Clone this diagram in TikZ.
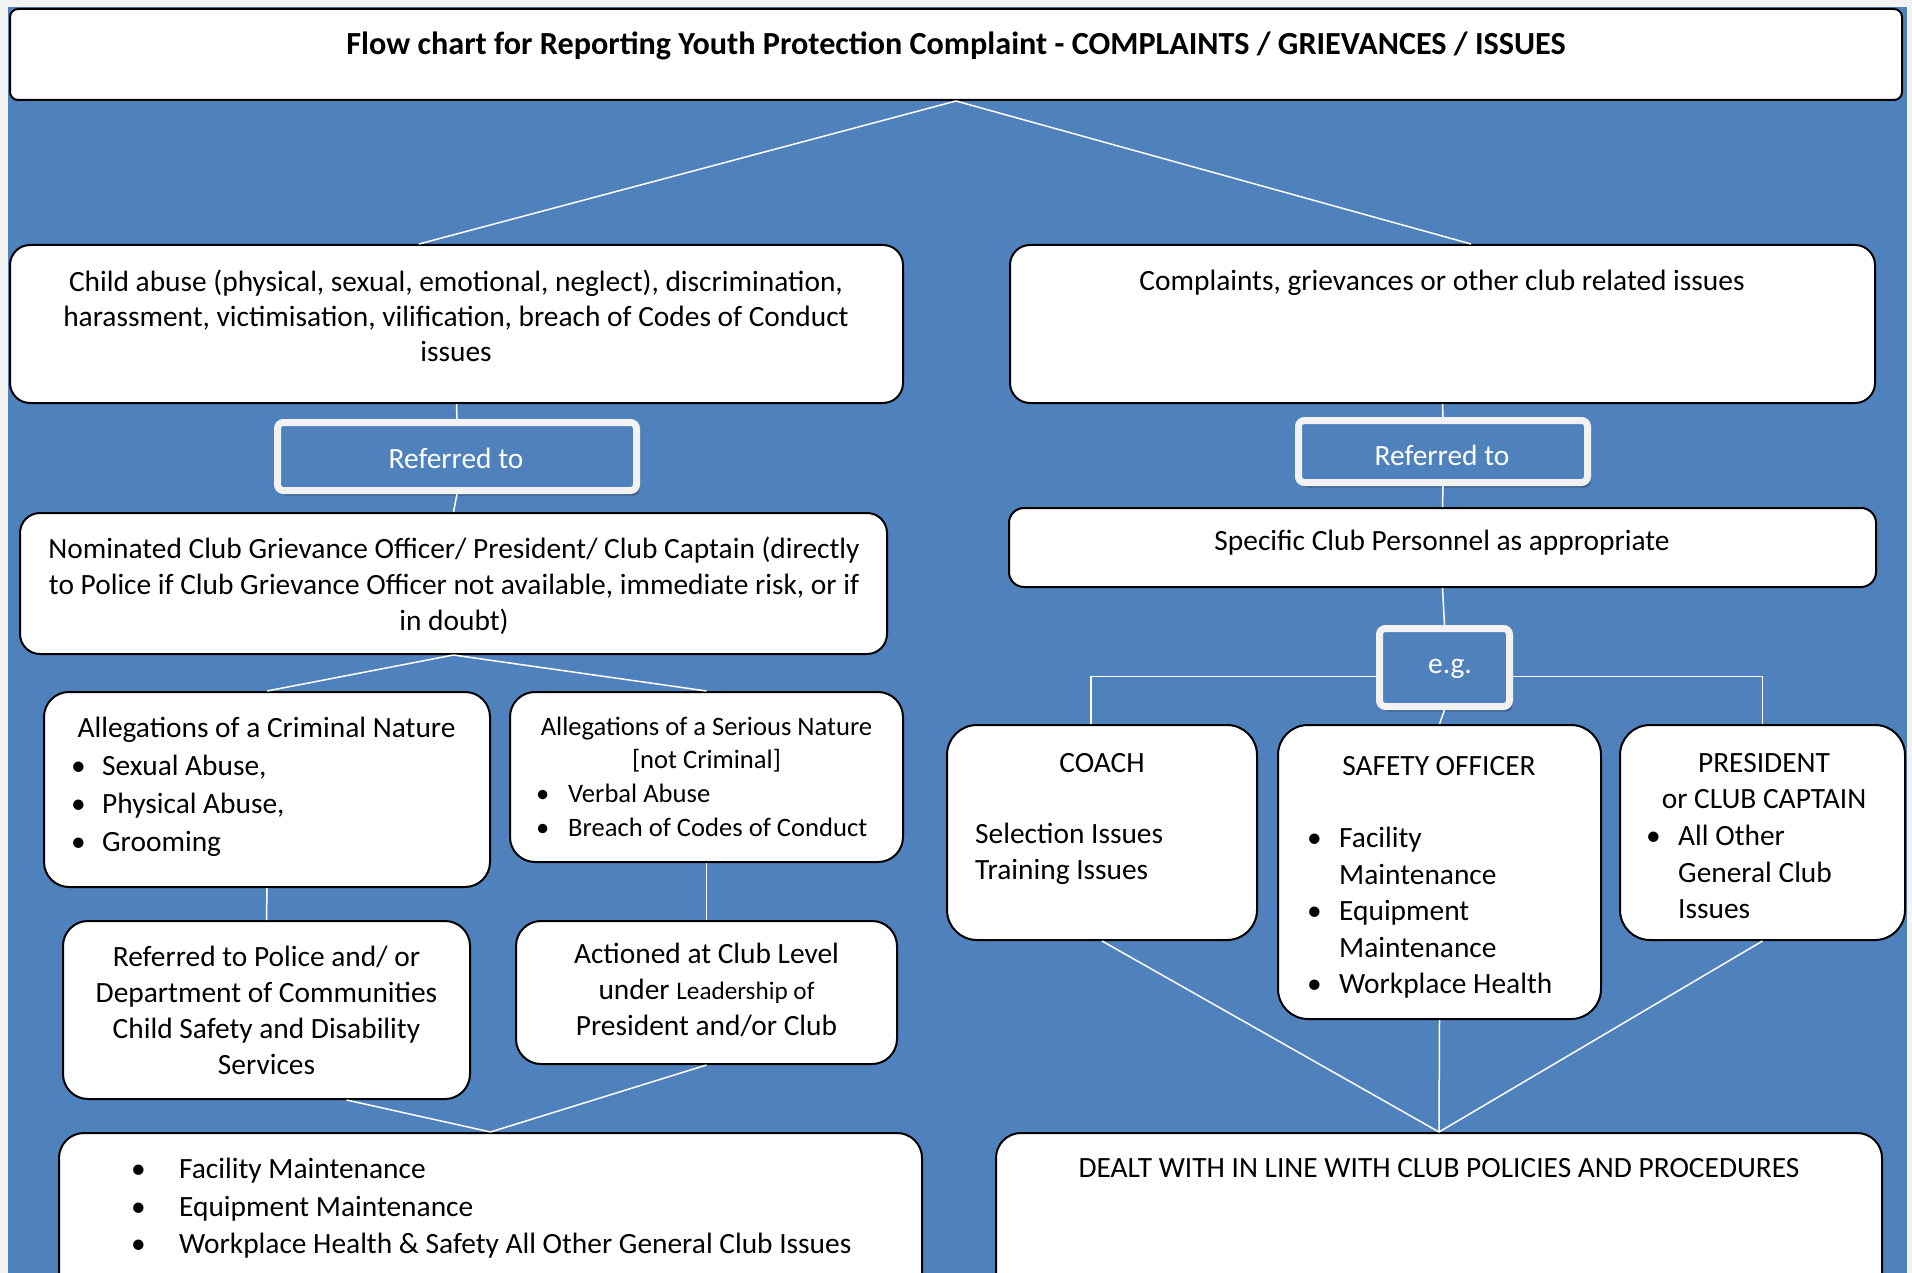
\documentclass[tikz,border=0pt]{standalone}
\usepackage{fontspec}
\setmainfont{Carlito}
\usetikzlibrary{shadows}
\definecolor{bgblue}{HTML}{4F81BD}
\definecolor{ltgray}{HTML}{F2F2F2}
\begin{document}
\begin{tikzpicture}[x=1pt,y=-1pt,
  box/.style={draw=black, line width=2pt, fill=white, rounded corners=#1, inner sep=0pt},
  box/.default=20pt,
  refbox/.style={draw=ltgray, line width=7pt, fill=bgblue, rounded corners=6pt, inner sep=0pt,
    drop shadow={shadow xshift=3pt,shadow yshift=-5pt,fill=black,opacity=0.25}},
  conn/.style={draw=white, line width=1.5pt},
  txt/.style={inner sep=0pt, font=\fontsize{29.4}{35}\selectfont, align=center},
  wtxt/.style={txt, text=white},
  ltxt/.style={inner sep=0pt, font=\fontsize{29.4}{37.5}\selectfont, align=left, anchor=west},
]
\useasboundingbox (0,0) rectangle (1912,1273);
\clip (0,0) rectangle (1912,1273);
\fill[ltgray] (0,0) rectangle (1912,1273);
\fill[bgblue] (8,7) rectangle (1907,1273);

% title
\node[box=8pt, minimum width=1892pt, minimum height=91pt] (T) at (956,54.5) {};
\node[txt, font=\bfseries\fontsize{32.2}{35}\selectfont] (Tt) at (956,45.5)
  {Flow chart for Reporting Youth Protection Complaint - COMPLAINTS / GRIEVANCES / ISSUES};

% left branch
\node[box, minimum width=893pt, minimum height=158pt] (A) at (456.5,324) {};
\node[txt] (At) at (456,315.5) {Child abuse (physical, sexual, emotional, neglect), discrimination,\\
  harassment, victimisation, vilification, breach of Codes of Conduct\\ issues};
\node[refbox, minimum width=359pt, minimum height=68pt] (R1) at (457,456.5) {};
\node[wtxt] (R1t) at (456,458) {Referred to};
\node[box, minimum width=867pt, minimum height=141pt] (C) at (453.5,583.5) {};
\node[txt, font=\fontsize{29.4}{36}\selectfont] (Ct) at (454,586)
  {Nominated Club Grievance Officer/ President/ Club Captain (directly\\
   to Police if Club Grievance Officer not available, immediate risk, or if\\ in doubt)};

\node[box=25pt, minimum width=446pt, minimum height=195pt] (D) at (267,789.5) {};
\node[txt] (Dt) at (266.5,729.5) {Allegations of a Criminal Nature};
\node[ltxt, font=\fontsize{29.4}{38}\selectfont] (Dl) at (71,805.5) {\makebox[31pt][l]{\textbullet}Sexual Abuse,\\
  \makebox[31pt][l]{\textbullet}Physical Abuse,\\ \makebox[31pt][l]{\textbullet}Grooming};

\node[box=25pt, minimum width=393pt, minimum height=170pt] (E) at (706.5,777) {};
\node[txt, font=\fontsize{26.6}{33.5}\selectfont] (Et) at (706.5,744.5)
  {Allegations of a Serious Nature\\ {[not Criminal]}};
\node[ltxt, font=\fontsize{26.6}{34}\selectfont] (El) at (536,810)
  {\makebox[32pt][l]{\textbullet}Verbal Abuse\\ \makebox[32pt][l]{\textbullet}Breach of Codes of Conduct};

\node[box=25pt, minimum width=407pt, minimum height=178pt] (F) at (266.5,1010) {};
\node[txt, font=\fontsize{29.4}{36}\selectfont] (Ft) at (266.5,1010)
  {Referred to Police and/ or\\ Department of Communities\\ Child Safety and Disability\\ Services};
\node[box=25pt, minimum width=381pt, minimum height=143pt] (G) at (706.5,992.5) {};
\node[txt, font=\fontsize{29.4}{36}\selectfont] (Gt) at (706.5,990)
  {Actioned at Club Level\\ under {\fontsize{25.2}{36}\selectfont Leadership of}\\ President and/or Club};

\node[box=25pt, minimum width=863pt, minimum height=167pt] (H) at (490.5,1216.5) {};
\node[ltxt] (Hl) at (131,1208.5) {\makebox[48pt][l]{\textbullet}Facility Maintenance\\
  \makebox[48pt][l]{\textbullet}Equipment Maintenance\\
  \makebox[48pt][l]{\textbullet}Workplace Health \& Safety All Other General Club Issues};

% right branch
\node[box, minimum width=865pt, minimum height=158pt] (B) at (1442.5,324) {};
\node[txt] (Bt) at (1442,282.5) {Complaints, grievances or other club related issues};
\node[refbox, minimum width=289pt, minimum height=62pt] (R2) at (1443,451.5) {};
\node[wtxt] (R2t) at (1442,455.5) {Referred to};
\node[box=15pt, minimum width=867pt, minimum height=79pt] (I) at (1442.5,547.5) {};
\node[txt] (It) at (1442,543) {Specific Club Personnel as appropriate};
\node[refbox, minimum width=130pt, minimum height=78pt] (EG) at (1444.5,667.5) {};
\node[wtxt] (EGt) at (1450,668.5) {e.g.};

\node[box=30pt, minimum width=310pt, minimum height=215pt] (J) at (1102,832.5) {};
\node[txt] (Jt) at (1102,763) {COACH};
\node[ltxt, font=\fontsize{29.4}{36}\selectfont] (Jl) at (975,853.5) {Selection Issues\\ Training Issues};

\node[box=30pt, minimum width=323pt, minimum height=294pt] (K) at (1439.5,872) {};
\node[txt] (Kt) at (1439,766) {SAFETY OFFICER};
\node[ltxt, font=\fontsize{29.4}{36.5}\selectfont] (Kl) at (1307,913)
  {\makebox[32pt][l]{\textbullet}Facility\\ \hspace*{32pt}Maintenance\\
   \makebox[32pt][l]{\textbullet}Equipment\\ \hspace*{32pt}Maintenance\\
   \makebox[32pt][l]{\textbullet}Workplace Health};

\node[box=30pt, minimum width=285pt, minimum height=215pt] (L) at (1762.5,832.5) {};
\node[txt, font=\fontsize{29.4}{36}\selectfont] (Lt) at (1764,781) {PRESIDENT\\ or CLUB CAPTAIN};
\node[ltxt, font=\fontsize{29.4}{36.5}\selectfont] (Ll) at (1646,872)
  {\makebox[32pt][l]{\textbullet}All Other\\ \hspace*{32pt}General Club\\ \hspace*{32pt}Issues};

\node[box=25pt, minimum width=886pt, minimum height=167pt] (M) at (1439,1216.5) {};
\node[txt] (Mt) at (1439,1168) {DEALT WITH IN LINE WITH CLUB POLICIES AND PROCEDURES};

% connectors
\draw[conn] (T.south) -- ([xshift=-37.5pt]A.north);
\draw[conn] (T.south) -- ([xshift=28.5pt]B.north);
\draw[conn] (A.south) -- (R1.north);
\draw[conn] (R1.south) -- (C.north);
\draw[conn] (C.south) -- (D.north);
\draw[conn] (C.south) -- (E.north);
\draw[conn] (D.south) -- (F.north);
\draw[conn] (E.south) -- (G.north);
\draw[conn] ([xshift=80pt]F.south) -- (H.north);
\draw[conn] (G.south) -- (H.north);
\draw[conn] (B.south) -- (R2.north);
\draw[conn] (R2.south) -- (I.north);
\draw[conn] (I.south) -- (EG.north);
\draw[conn] ([yshift=-9pt]EG.west) -| ([xshift=-11pt]J.north);
\draw[conn] ([yshift=-9pt]EG.east) -| (L.north);
\draw[conn] (EG.south) -- (K.north);
\draw[conn] (J.south) -- (M.north);
\draw[conn] (K.south) -- (M.north);
\draw[conn] (L.south) -- (M.north);
\end{tikzpicture}
\end{document}
